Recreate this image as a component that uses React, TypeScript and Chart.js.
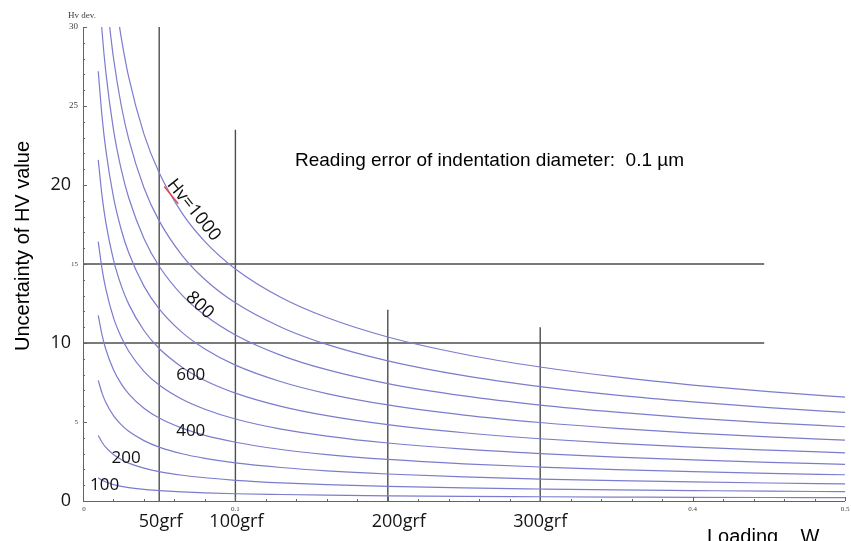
import { useEffect, useRef } from 'react';
import { Chart, registerables } from 'chart.js';

Chart.register(...registerables);

// Load W (kgf) against uncertainty of the Vickers value, one curve per hardness level.
const HV100: [number, number][] = [
  [0.01, 1.47], [0.0125, 1.31], [0.015, 1.2], [0.02, 1.04], [0.025, 0.93], [0.03, 0.85], [0.04, 0.73],
  [0.05, 0.66], [0.065, 0.58], [0.08, 0.52], [0.1, 0.46], [0.13, 0.41], [0.16, 0.37], [0.2, 0.33],
  [0.25, 0.29], [0.3, 0.27], [0.35, 0.25], [0.4, 0.23], [0.45, 0.22], [0.5, 0.21],
];
const HV200: [number, number][] = [
  [0.01, 4.15], [0.0125, 3.72], [0.015, 3.39], [0.02, 2.94], [0.025, 2.63], [0.03, 2.4], [0.04, 2.08],
  [0.05, 1.86], [0.065, 1.63], [0.08, 1.47], [0.1, 1.31], [0.13, 1.15], [0.16, 1.04], [0.2, 0.93],
  [0.25, 0.83], [0.3, 0.76], [0.35, 0.7], [0.4, 0.66], [0.45, 0.62], [0.5, 0.59],
];
const HV300: [number, number][] = [
  [0.01, 7.63], [0.0125, 6.83], [0.015, 6.23], [0.02, 5.4], [0.025, 4.83], [0.03, 4.41], [0.04, 3.82],
  [0.05, 3.41], [0.065, 2.99], [0.08, 2.7], [0.1, 2.41], [0.13, 2.12], [0.16, 1.91], [0.2, 1.71],
  [0.25, 1.53], [0.3, 1.39], [0.35, 1.29], [0.4, 1.21], [0.45, 1.14], [0.5, 1.08],
];
const HV400: [number, number][] = [
  [0.01, 11.75], [0.0125, 10.51], [0.015, 9.59], [0.02, 8.31], [0.025, 7.43], [0.03, 6.78], [0.04, 5.87],
  [0.05, 5.25], [0.065, 4.61], [0.08, 4.15], [0.1, 3.72], [0.13, 3.26], [0.16, 2.94], [0.2, 2.63],
  [0.25, 2.35], [0.3, 2.15], [0.35, 1.99], [0.4, 1.86], [0.45, 1.75], [0.5, 1.66],
];
const HV500: [number, number][] = [
  [0.01, 16.42], [0.0125, 14.69], [0.015, 13.41], [0.02, 11.61], [0.025, 10.39], [0.03, 9.48], [0.04, 8.21],
  [0.05, 7.34], [0.065, 6.44], [0.08, 5.81], [0.1, 5.19], [0.13, 4.55], [0.16, 4.11], [0.2, 3.67],
  [0.25, 3.28], [0.3, 3.0], [0.35, 2.78], [0.4, 2.6], [0.45, 2.45], [0.5, 2.32],
];
const HV600: [number, number][] = [
  [0.01, 21.59], [0.0125, 19.31], [0.015, 17.62], [0.02, 15.26], [0.025, 13.65], [0.03, 12.46], [0.04, 10.79],
  [0.05, 9.65], [0.065, 8.47], [0.08, 7.63], [0.1, 6.83], [0.13, 5.99], [0.16, 5.4], [0.2, 4.83],
  [0.25, 4.32], [0.3, 3.94], [0.35, 3.65], [0.4, 3.41], [0.45, 3.22], [0.5, 3.05],
];
const HV700: [number, number][] = [
  [0.01, 27.2], [0.0125, 24.33], [0.015, 22.21], [0.02, 19.23], [0.025, 17.2], [0.03, 15.71], [0.04, 13.6],
  [0.05, 12.16], [0.065, 10.67], [0.08, 9.62], [0.1, 8.6], [0.13, 7.55], [0.16, 6.8], [0.2, 6.08],
  [0.25, 5.44], [0.3, 4.97], [0.35, 4.6], [0.4, 4.3], [0.45, 4.06], [0.5, 3.85],
];
const HV800: [number, number][] = [
  [0.0123, 30], [0.0125, 29.72], [0.015, 27.13], [0.02, 23.5], [0.025, 21.02], [0.03, 19.19], [0.04, 16.62],
  [0.05, 14.86], [0.065, 13.03], [0.08, 11.75], [0.1, 10.51], [0.13, 9.22], [0.16, 8.31], [0.2, 7.43],
  [0.25, 6.65], [0.3, 6.07], [0.35, 5.62], [0.4, 5.25], [0.45, 4.95], [0.5, 4.7],
];
const HV900: [number, number][] = [
  [0.0175, 30], [0.02, 28.04], [0.025, 25.08], [0.03, 22.9], [0.04, 19.83],
  [0.05, 17.73], [0.065, 15.55], [0.08, 14.02], [0.1, 12.54], [0.13, 11.0], [0.16, 9.91], [0.2, 8.87],
  [0.25, 7.93], [0.3, 7.24], [0.35, 6.7], [0.4, 6.27], [0.45, 5.91], [0.5, 5.61],
];
const HV1000: [number, number][] = [
  [0.024, 30], [0.025, 29.38], [0.03, 26.82], [0.04, 23.22],
  [0.05, 20.77], [0.065, 18.22], [0.08, 16.42], [0.1, 14.69], [0.13, 12.88], [0.16, 11.61], [0.2, 10.38],
  [0.25, 9.29], [0.3, 8.48], [0.35, 7.85], [0.4, 7.34], [0.45, 6.92], [0.5, 6.57],
];
const CURVES = [HV100, HV200, HV300, HV400, HV500, HV600, HV700, HV800, HV900, HV1000];

// Reference loads (vertical guides) and the height each guide reaches.
const GUIDE_LOADS = [0.05, 0.1, 0.2, 0.3];
const GUIDE_TOPS = [30, 23.5, 12.1, 11.0];
const GUIDE_LABELS = ['50grf', '100grf', '200grf', '300grf'];
// Horizontal guides at these uncertainty levels, drawn out to GUIDE_LEVEL_END.
const GUIDE_LEVELS = [15, 10];
const GUIDE_LEVEL_END = 0.447;

// Axis tick values and the labels that are printed.
const Y_MAJOR = [0, 5, 10, 15, 20, 25, 30];
const Y_SMALL_LABELS = [30, 25, 15, 5];
const Y_BIG_LABELS = [20, 10, 0];
const X_MAJOR = [0, 0.1, 0.2, 0.3, 0.4, 0.5];
const X_SMALL_LABELS = ['0', '0.1', '0.4', '0.5'];
const X_SMALL_VALUES = [0, 0.1, 0.4, 0.5];

// Curve annotations: text, anchor load, anchor value, rotation (degrees).
const CURVE_TAGS = ['Hv=1000', '800', '600', '400', '200', '100'];
const CURVE_TAG_LOADS = [0.0726, 0.0766, 0.0707, 0.0707, 0.0283, 0.0142];
const CURVE_TAG_VALUES = [18.41, 12.39, 7.95, 4.4, 2.69, 0.98];
const CURVE_TAG_ANGLES = [51, 43, 0, 0, 0, 0];

const CURVE_COLOR = 'rgb(124,124,206)';
const GUIDE_COLOR = 'rgb(78,78,78)';
const AXIS_COLOR = 'rgb(100,100,100)';
const BIG_FONT = '"Open Sans", Lato, sans-serif';

const annotations = {
  id: 'annotations',
  afterDraw(chart: any) {
    const { ctx, chartArea } = chart;
    const xs = chart.scales.x;
    const ys = chart.scales.y;
    const left = chartArea.left;
    const bottom = chartArea.bottom;
    ctx.save();

    // axes
    ctx.strokeStyle = AXIS_COLOR;
    ctx.lineWidth = 1;
    ctx.beginPath();
    ctx.moveTo(left + 0.5, chartArea.top);
    ctx.lineTo(left + 0.5, bottom + 0.5);
    ctx.lineTo(chartArea.right, bottom + 0.5);
    ctx.stroke();

    // y ticks pointing inward: major every 5, minor every 1
    ctx.beginPath();
    for (let v = 0; v <= 30; v += 1) {
      const y = Math.round(ys.getPixelForValue(v)) + 0.5;
      const len = Y_MAJOR.includes(v) ? 4 : 2;
      ctx.moveTo(left, y);
      ctx.lineTo(left + len, y);
    }
    // x ticks pointing inward: major every 0.1, minor every 0.02
    for (let i = 0; i <= 25; i++) {
      const v = i * 0.02;
      const x = Math.round(xs.getPixelForValue(v)) + 0.5;
      const major = X_MAJOR.some((m) => Math.abs(m - v) < 1e-9);
      const len = major ? 4 : 2;
      ctx.moveTo(x, bottom);
      ctx.lineTo(x, bottom - len);
    }
    ctx.stroke();

    // small axis labels
    ctx.fillStyle = 'rgb(60,60,60)';
    ctx.font = '9px "Liberation Serif", serif';
    ctx.textAlign = 'center';
    ctx.textBaseline = 'middle';
    ctx.fillText('Hv dev.', left - 1, 16);
    ctx.textAlign = 'right';
    Y_SMALL_LABELS.forEach((v) => {
      ctx.font = v >= 25 ? '9px "Liberation Serif", serif' : '7px "Liberation Serif", serif';
      ctx.fillText(String(v), left - 5, ys.getPixelForValue(v));
    });
    ctx.textAlign = 'center';
    ctx.font = '7px "Liberation Serif", serif';
    X_SMALL_VALUES.forEach((v, i) => {
      ctx.fillText(X_SMALL_LABELS[i], xs.getPixelForValue(v) + (i === 0 ? 1 : 0), bottom + 8);
    });

    // large axis numbers
    ctx.fillStyle = 'rgb(20,20,20)';
    ctx.font = `18px ${BIG_FONT}`;
    ctx.textAlign = 'right';
    Y_BIG_LABELS.forEach((v) => {
      ctx.fillText(String(v), left - 12, ys.getPixelForValue(v));
    });

    // load labels under the guides
    const labelNudge = [1.5, 1, 11, 0];
    ctx.textAlign = 'center';
    GUIDE_LOADS.forEach((w, i) => {
      ctx.fillText(GUIDE_LABELS[i], xs.getPixelForValue(w) + labelNudge[i], bottom + 21);
    });

    // axis titles
    ctx.fillStyle = 'rgb(0,0,0)';
    ctx.font = '20px "Liberation Sans", Arial, sans-serif';
    ctx.textAlign = 'left';
    ctx.textBaseline = 'alphabetic';
    ctx.fillText('Loading    W', 707, bottom + 42);
    ctx.save();
    ctx.translate(29, 246);
    ctx.rotate(-Math.PI / 2);
    ctx.textAlign = 'center';
    ctx.fillText('Uncertainty of HV value', 0, 0);
    ctx.restore();

    // note
    ctx.font = '19px "Liberation Sans", Arial, sans-serif';
    ctx.textAlign = 'left';
    ctx.textBaseline = 'middle';
    ctx.fillText('Reading error of indentation diameter:  0.1 \u00b5m', 295, 161);

    // curve tags
    ctx.fillStyle = 'rgb(15,15,15)';
    CURVE_TAGS.forEach((t, i) => {
      const x = xs.getPixelForValue(CURVE_TAG_LOADS[i]);
      const y = ys.getPixelForValue(CURVE_TAG_VALUES[i]);
      ctx.font = `${CURVE_TAG_ANGLES[i] ? 18 : 17}px ${BIG_FONT}`;
      ctx.save();
      ctx.translate(x, y);
      ctx.rotate((CURVE_TAG_ANGLES[i] * Math.PI) / 180);
      ctx.textAlign = 'center';
      ctx.textBaseline = 'middle';
      ctx.fillText(t, 0, 0);
      if (t.startsWith('Hv')) {
        const full = ctx.measureText(t).width;
        const hv = ctx.measureText('Hv').width;
        ctx.strokeStyle = 'rgb(230,70,70)';
        ctx.lineWidth = 1.4;
        ctx.beginPath();
        ctx.moveTo(-full / 2, 8);
        ctx.lineTo(-full / 2 + hv, 8);
        ctx.stroke();
      }
      ctx.restore();
    });

    ctx.restore();
  },
};

export default function App() {
  const canvasRef = useRef<HTMLCanvasElement | null>(null);

  useEffect(() => {
    const canvas = canvasRef.current;
    if (!canvas) return;

    const curveSets = CURVES.map((pts, i) => ({
      label: `HV ${(i + 1) * 100}`,
      data: pts.map(([x, y]) => ({ x, y })),
      borderColor: CURVE_COLOR,
      borderWidth: 1.2,
      cubicInterpolationMode: 'monotone' as const,
      pointRadius: 0,
      fill: false,
    }));
    const verticalSets = GUIDE_LOADS.map((w, i) => ({
      label: GUIDE_LABELS[i],
      data: [{ x: w, y: 0 }, { x: w, y: GUIDE_TOPS[i] }],
      borderColor: GUIDE_COLOR,
      borderWidth: 1.4,
      pointRadius: 0,
      fill: false,
    }));
    const horizontalSets = GUIDE_LEVELS.map((lv) => ({
      label: `level ${lv}`,
      data: [{ x: 0, y: lv }, { x: GUIDE_LEVEL_END, y: lv }],
      borderColor: GUIDE_COLOR,
      borderWidth: 1.4,
      pointRadius: 0,
      fill: false,
    }));

    const chart = new Chart(canvas, {
      type: 'line',
      data: { datasets: [...curveSets, ...verticalSets, ...horizontalSets] as any },
      options: {
        responsive: false,
        animation: false,
        layout: { padding: { left: 83, right: 6, top: 27, bottom: 40 } },
        scales: {
          x: { type: 'linear', min: 0, max: 0.5, display: false },
          y: { type: 'linear', min: 0, max: 30, display: false },
        },
        plugins: { legend: { display: false }, tooltip: { enabled: false } },
      },
      plugins: [annotations],
    });

    return () => chart.destroy();
  }, []);

  return (
    <div style={{ position: 'absolute', left: 0, top: 0, width: 851, height: 541, background: '#fff' }}>
      <canvas ref={canvasRef} width={851} height={541} />
    </div>
  );
}
